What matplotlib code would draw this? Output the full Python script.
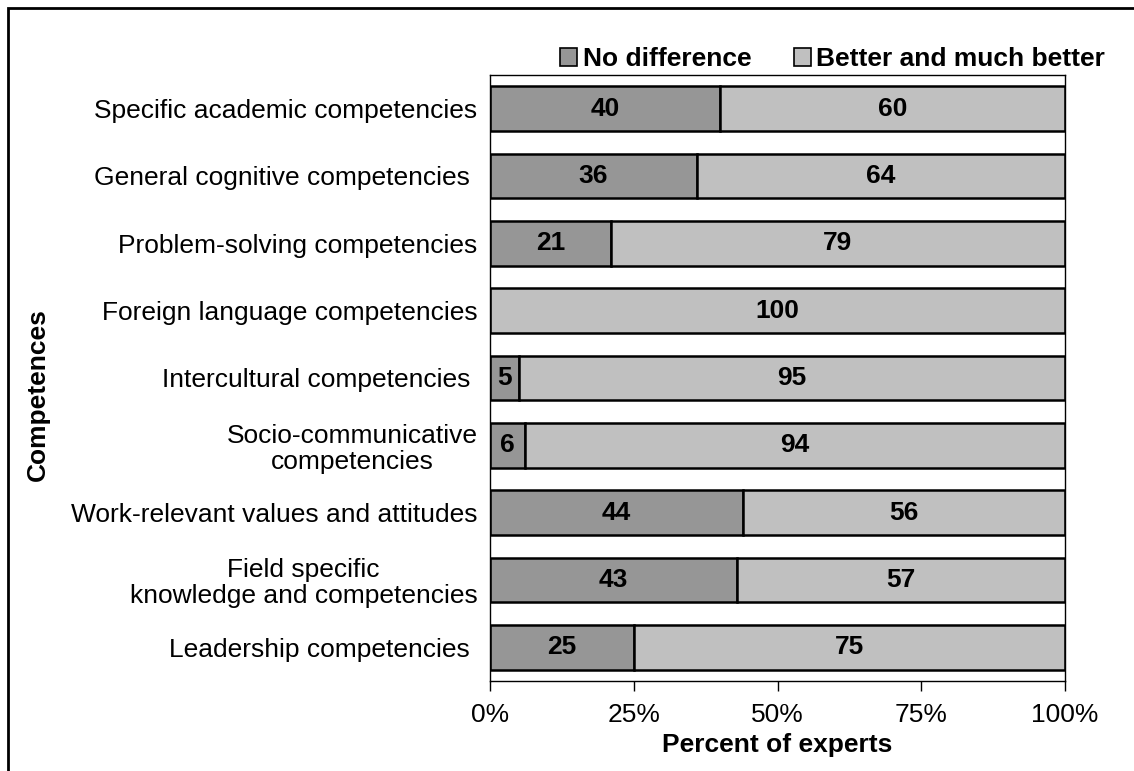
import matplotlib
matplotlib.use("Agg")
import matplotlib.pyplot as plt
from matplotlib.patches import Rectangle
from matplotlib.ticker import FuncFormatter

plt.rcParams['font.family'] = ['Liberation Sans', 'DejaVu Sans']

# competences, top to bottom
categories = [
    "Specific academic competencies",
    "General cognitive competencies ",
    "Problem-solving competencies",
    "Foreign language competencies",
    "Intercultural competencies ",
    "Socio-communicative\ncompetencies",
    "Work-relevant values and attitudes",
    "Field specific\nknowledge and competencies",
    "Leadership competencies ",
]
no_difference = [40, 36, 21, 0, 5, 6, 44, 43, 25]
better = [60, 64, 79, 100, 95, 94, 56, 57, 75]
series_names = ["No difference", "Better and much better"]
xticks = [0, 25, 50, 75, 100]

dark = "#969696"
light = "#c0c0c0"

fig = plt.figure(figsize=(11.34, 7.71), dpi=100)
ax = fig.add_axes([490 / 1134, 1 - 681 / 771, 575 / 1134, 606 / 771])

# outer frame of the chart area
fig.patches.append(Rectangle((8 / 1134, -0.05), 1.2, 1 - 8 / 771 + 0.05,
                             transform=fig.transFigure, fill=False,
                             edgecolor="black", linewidth=2))

y = list(range(len(categories)))
h = 0.66
b1 = ax.barh(y, no_difference, height=h, color=dark, edgecolor="black",
             linewidth=1.8, label=series_names[0])
b2 = ax.barh(y, better, left=no_difference, height=h, color=light,
             edgecolor="black", linewidth=1.8, label=series_names[1])

for i in y:
    if no_difference[i] > 0:
        ax.text(no_difference[i] / 2, i, str(no_difference[i]), ha="center",
                va="center", fontsize=19, fontweight="bold")
    ax.text(no_difference[i] + better[i] / 2, i, str(better[i]), ha="center",
            va="center", fontsize=19, fontweight="bold")

ax.set_ylim(len(categories) - 0.5, -0.5)
ax.set_xlim(0, 100)
ax.set_yticks(y)
ax.set_yticklabels(categories, fontsize=19, multialignment="center",
                   linespacing=1.1)
ax.tick_params(axis="y", length=0, pad=9)
ax.set_xticks(xticks)
ax.xaxis.set_major_formatter(FuncFormatter(lambda v, p: f"{v:.0f}%"))
ax.tick_params(axis="x", direction="out", length=7, width=1, labelsize=19, pad=9)

for s in ax.spines.values():
    s.set_linewidth(1)
    s.set_color("black")

ax.set_xlabel("Percent of experts", fontsize=19, fontweight="bold", labelpad=4)
fig.text(38 / 1134, 1 - 395 / 771, "Competences", rotation=90, ha="center",
         va="center", fontsize=19, fontweight="bold")

leg = fig.legend(handles=[b1, b2], labels=series_names, loc="center right",
                 bbox_to_anchor=(1118 / 1134, 1 - 59 / 771), ncol=2,
                 frameon=False, prop={"size": 19, "weight": "bold"},
                 handlelength=0.65, handleheight=0.65, handletextpad=0.2,
                 columnspacing=1.6, borderpad=0)
for p in leg.get_patches():
    p.set_linewidth(1.2)

fig.savefig("out.png", dpi=100)
